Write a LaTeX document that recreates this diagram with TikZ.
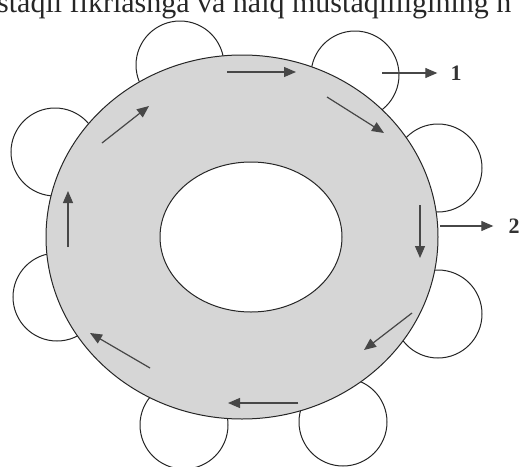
\documentclass[tikz,border=0pt]{standalone}
\usepackage{fontspec}
\setmainfont{Liberation Serif}
\usetikzlibrary{arrows.meta}
\tikzset{
 ring band/.style={fill=black!16,draw=black!85,line width=1pt,even odd rule},
 petal/.style={circle,draw=black!85,line width=1pt,fill=white,
               minimum size=88pt,inner sep=0pt},
 flow arrow/.style={-{Triangle[length=12pt,width=10pt]},line width=1.2pt,draw=black!72,fill=black!72},
 out arrow/.style={-{Triangle[length=12pt,width=10pt]},line width=1.2pt,draw=black!72,fill=black!72},
 out label/.style={font=\bfseries\fontsize{22}{22}\selectfont,text=black!80,
                   inner sep=6pt},
 page line/.style={anchor=base west,inner sep=0pt,
                   font=\fontsize{30}{30}\selectfont,text=black!85}
}
\begin{document}
\begin{tikzpicture}[x=1pt,y=-1pt]
 \useasboundingbox (0,0) rectangle (519,466);

 \node[page line] (top) at (-3,12) {staqil fikrlashga va halq mustaqilligining n};

 % petals round the ring
 \foreach \n/\px/\py in {1/180/65,2/355/75,3/438/168,4/438/314,
                         5/343/422,6/184/425,7/57/297,8/55/152}
   \node[petal] (p\n) at (\px,\py) {};

 % the ring
 \draw[ring band] (242,237) ellipse [x radius=196,y radius=182]
                  (251,237) ellipse [x radius=91,y radius=75];

 % flow inside the ring
 \coordinate (a1) at (227,72);  \coordinate (b1) at (296,72);
 \coordinate (a2) at (327,97);  \coordinate (b2) at (384,133);
 \coordinate (a3) at (420,205); \coordinate (b3) at (420,258);
 \coordinate (a4) at (412,313); \coordinate (b4) at (364,350);
 \coordinate (a5) at (298,403); \coordinate (b5) at (228,403);
 \coordinate (a6) at (150,368); \coordinate (b6) at (90,333);
 \coordinate (a7) at (68,247);  \coordinate (b7) at (68,191);
 \coordinate (a8) at (102,143); \coordinate (b8) at (149,106);
 \foreach \i in {1,...,8} \draw[flow arrow] (a\i)--(b\i);

 % outlets
 \node[out label] (l1) at (456,73) {1};
 \node[out label] (l2) at (514,226) {2};
 \coordinate (o1) at (382,73);
 \coordinate (o2) at (440,226);
 \draw[out arrow,shorten >=7pt] (o1)--(l1);
 \draw[out arrow,shorten >=9pt] (o2)--(l2);
\end{tikzpicture}
\end{document}
